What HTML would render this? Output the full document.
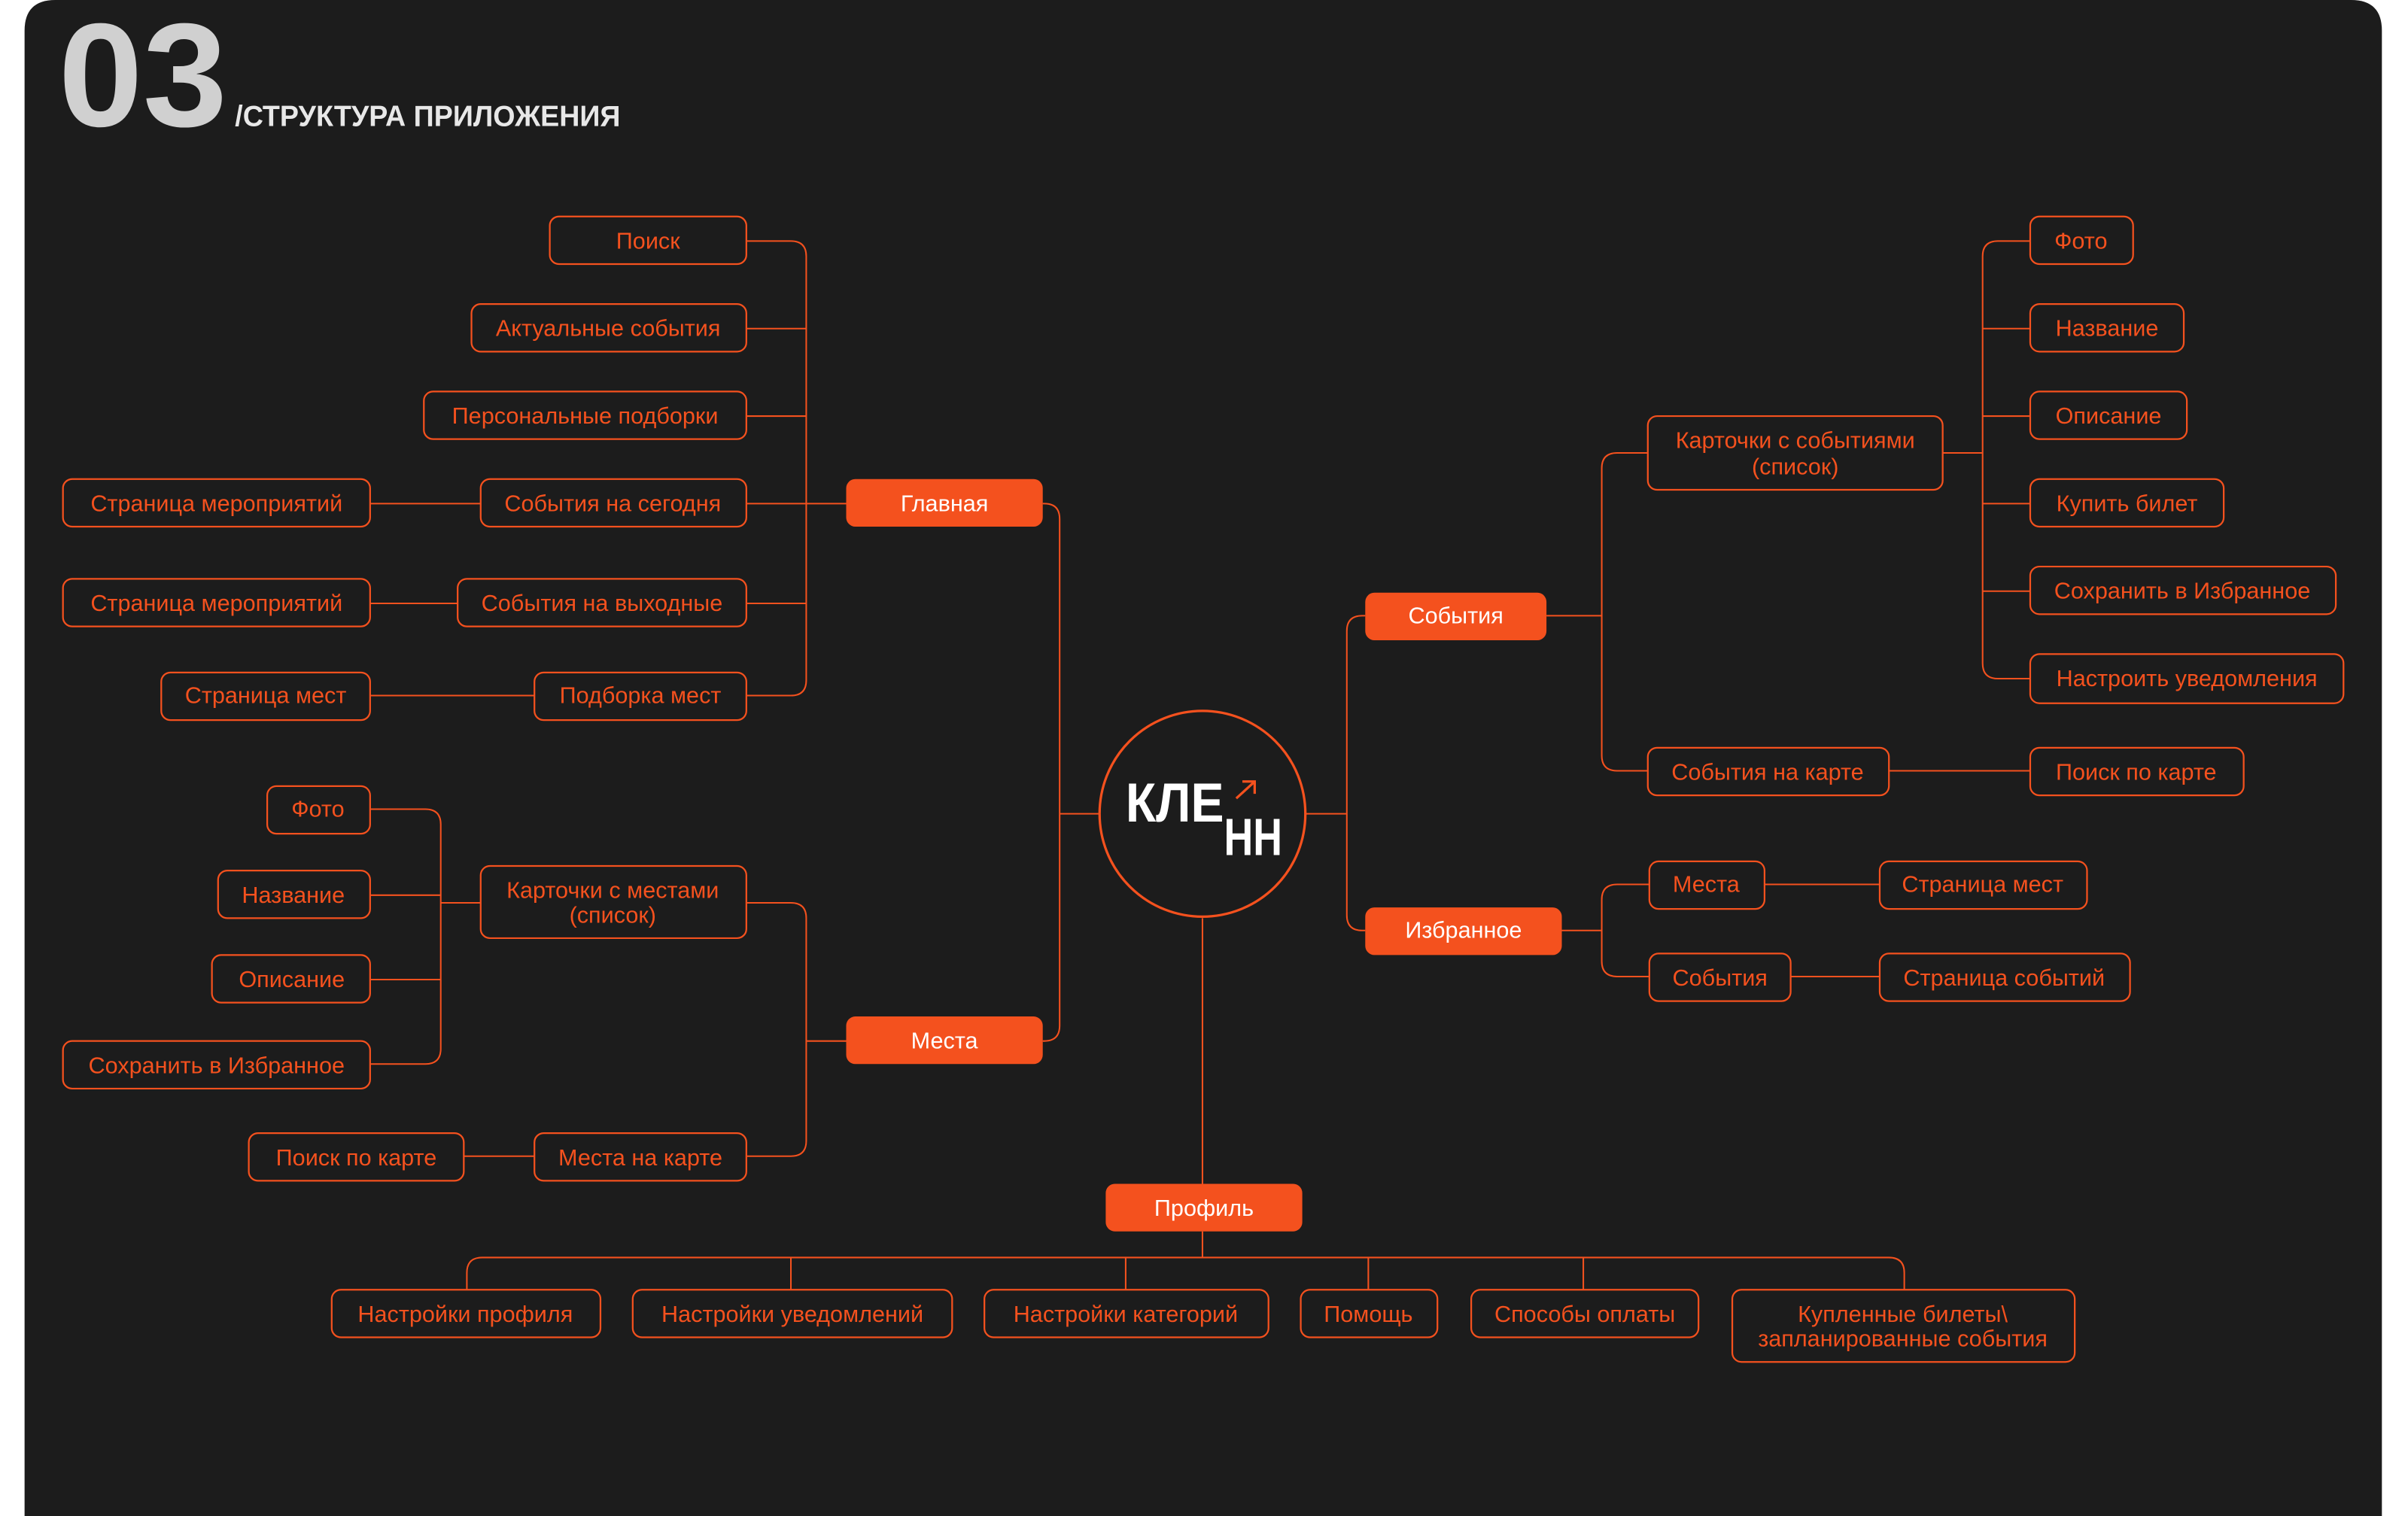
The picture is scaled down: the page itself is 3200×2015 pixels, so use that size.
<!DOCTYPE html>
<html><head><meta charset="utf-8"><style>
html,body{margin:0;padding:0;background:#fff;}
svg{display:block}
text{font-family:"Liberation Sans",sans-serif;}
.b{fill:none;stroke:#f4511e;stroke-width:1.1}
.f{fill:#f4511e;stroke:none}
.l{fill:none;stroke:#f4511e;stroke-width:1}
.t{fill:#f4511e;font-size:15px;text-anchor:middle;dominant-baseline:central}
.tw{fill:#fff;font-size:15px;text-anchor:middle;dominant-baseline:central}
</style></head><body>
<svg width="3200" height="2015" viewBox="0 0 1568 987.35" xmlns="http://www.w3.org/2000/svg">
<rect x="0" y="0" width="1568" height="988" fill="#fff"/>
<path d="M16 988 V20 Q16 0 36 0 H1531 Q1551 0 1551 20 V988 Z" fill="#1c1c1c"/>
<text x="38" y="82" font-size="96" font-weight="bold" fill="#d0d0d0" textLength="110" lengthAdjust="spacingAndGlyphs">03</text>
<text x="153" y="82" font-size="19" font-weight="bold" fill="#e8e8e8" textLength="251" lengthAdjust="spacingAndGlyphs">/СТРУКТУРА ПРИЛОЖЕНИЯ</text>

<g class="l">
<path d="M486 157 H515 Q525 157 525 167 V443 Q525 453 515 453 H486"/>
<path d="M486 214 H525 M486 271 H525 M486 328 H551 M486 393 H525"/>
<path d="M241 328 H313 M241 393 H298 M241 453 H348"/>
<path d="M679 328 H680 Q690 328 690 338 V668 Q690 678 680 678 H679 M690 530 H717"/>
<path d="M486 588 H515 Q525 588 525 598 V743 Q525 753 515 753 H486 M525 678 H551"/>
<path d="M241 527 H277 Q287 527 287 537 V683 Q287 693 277 693 H241 M241 583 H287 M241 638 H287 M287 588 H313"/>
<path d="M302 753 H348"/>
<path d="M850 530 H877 M889 401 H887 Q877 401 877 411 V596 Q877 606 887 606 H889"/>
<path d="M1007 401 H1043 M1073 295 H1053 Q1043 295 1043 305 V492 Q1043 502 1053 502 H1073 M1230 502 H1322"/>
<path d="M1265 295 H1291 M1322 157 H1301 Q1291 157 1291 167 V432 Q1291 442 1301 442 H1322 M1291 214 H1322 M1291 271 H1322 M1291 328 H1322 M1291 385 H1322"/>
<path d="M1017 606 H1043 M1074 576 H1053 Q1043 576 1043 586 V626 Q1043 636 1053 636 H1074 M1149 576 H1224 M1166 636 H1224"/>
<path d="M783 598 V771 M783 802 V819 M304 840 V829 Q304 819 314 819 H1230 Q1240 819 1240 829 V840 M515 819 V840 M733 819 V840 M891 819 V840 M1031 819 V840"/>
</g>

<circle cx="783" cy="530" r="67" fill="#1c1c1c" stroke="#f4511e" stroke-width="1.6"/>
<text x="733" y="535" font-size="36" font-weight="bold" fill="#fff" textLength="64" lengthAdjust="spacingAndGlyphs">КЛЕ</text>
<text x="797" y="557" font-size="34" font-weight="bold" fill="#fff" textLength="38" lengthAdjust="spacingAndGlyphs">НН</text>
<path d="M805 520 L817 509 M809 509 H817 V517" fill="none" stroke="#f4511e" stroke-width="1.6"/>

<rect class="f" x="551" y="312" width="128" height="31" rx="6"/><text class="tw" x="615" y="328">Главная</text>
<rect class="f" x="551" y="662" width="128" height="31" rx="6"/><text class="tw" x="615" y="678">Места</text>
<rect class="f" x="889" y="386" width="118" height="31" rx="6"/><text class="tw" x="948" y="401">События</text>
<rect class="f" x="889" y="591" width="128" height="31" rx="6"/><text class="tw" x="953" y="606">Избранное</text>
<rect class="f" x="720" y="771" width="128" height="31" rx="6"/><text class="tw" x="784" y="787">Профиль</text>

<g>
<rect class="b" x="358" y="141" width="128" height="31" rx="6"/><text class="t" x="422" y="157">Поиск</text>
<rect class="b" x="307" y="198" width="179" height="31" rx="6"/><text class="t" x="396" y="214">Актуальные события</text>
<rect class="b" x="276" y="255" width="210" height="31" rx="6"/><text class="t" x="381" y="271">Персональные подборки</text>
<rect class="b" x="313" y="312" width="173" height="31" rx="6"/><text class="t" x="399" y="328">События на сегодня</text>
<rect class="b" x="41" y="312" width="200" height="31" rx="6"/><text class="t" x="141" y="328">Страница мероприятий</text>
<rect class="b" x="298" y="377" width="188" height="31" rx="6"/><text class="t" x="392" y="393">События на выходные</text>
<rect class="b" x="41" y="377" width="200" height="31" rx="6"/><text class="t" x="141" y="393">Страница мероприятий</text>
<rect class="b" x="348" y="438" width="138" height="31" rx="6"/><text class="t" x="417" y="453">Подборка мест</text>
<rect class="b" x="105" y="438" width="136" height="31" rx="6"/><text class="t" x="173" y="453">Страница мест</text>

<rect class="b" x="313" y="564" width="173" height="47" rx="6"/><text class="t" x="399" y="580">Карточки с местами</text><text class="t" x="399" y="596">(список)</text>
<rect class="b" x="348" y="738" width="138" height="31" rx="6"/><text class="t" x="417" y="754">Места на карте</text>
<rect class="b" x="162" y="738" width="140" height="31" rx="6"/><text class="t" x="232" y="754">Поиск по карте</text>
<rect class="b" x="174" y="512" width="67" height="31" rx="6"/><text class="t" x="207" y="527">Фото</text>
<rect class="b" x="142" y="567" width="99" height="31" rx="6"/><text class="t" x="191" y="583">Название</text>
<rect class="b" x="138" y="622" width="103" height="31" rx="6"/><text class="t" x="190" y="638">Описание</text>
<rect class="b" x="41" y="678" width="200" height="31" rx="6"/><text class="t" x="141" y="694">Сохранить в Избранное</text>

<rect class="b" x="1073" y="271" width="192" height="48" rx="6"/><text class="t" x="1169" y="287">Карточки с событиями</text><text class="t" x="1169" y="304">(список)</text>
<rect class="b" x="1073" y="487" width="157" height="31" rx="6"/><text class="t" x="1151" y="503">События на карте</text>
<rect class="b" x="1322" y="487" width="139" height="31" rx="6"/><text class="t" x="1391" y="503">Поиск по карте</text>
<rect class="b" x="1322" y="141" width="67" height="31" rx="6"/><text class="t" x="1355" y="157">Фото</text>
<rect class="b" x="1322" y="198" width="100" height="31" rx="6"/><text class="t" x="1372" y="214">Название</text>
<rect class="b" x="1322" y="255" width="102" height="31" rx="6"/><text class="t" x="1373" y="271">Описание</text>
<rect class="b" x="1322" y="312" width="126" height="31" rx="6"/><text class="t" x="1385" y="328">Купить билет</text>
<rect class="b" x="1322" y="369" width="199" height="31" rx="6"/><text class="t" x="1421" y="385">Сохранить в Избранное</text>
<rect class="b" x="1322" y="426" width="204" height="32" rx="6"/><text class="t" x="1424" y="442">Настроить уведомления</text>

<rect class="b" x="1074" y="561" width="75" height="31" rx="6"/><text class="t" x="1111" y="576">Места</text>
<rect class="b" x="1074" y="621" width="92" height="31" rx="6"/><text class="t" x="1120" y="637">События</text>
<rect class="b" x="1224" y="561" width="135" height="31" rx="6"/><text class="t" x="1291" y="576">Страница мест</text>
<rect class="b" x="1224" y="621" width="163" height="31" rx="6"/><text class="t" x="1305" y="637">Страница событий</text>

<rect class="b" x="216" y="840" width="175" height="31" rx="6"/><text class="t" x="303" y="856">Настройки профиля</text>
<rect class="b" x="412" y="840" width="208" height="31" rx="6"/><text class="t" x="516" y="856">Настройки уведомлений</text>
<rect class="b" x="641" y="840" width="185" height="31" rx="6"/><text class="t" x="733" y="856">Настройки категорий</text>
<rect class="b" x="847" y="840" width="89" height="31" rx="6"/><text class="t" x="891" y="856">Помощь</text>
<rect class="b" x="958" y="840" width="148" height="31" rx="6"/><text class="t" x="1032" y="856">Способы оплаты</text>
<rect class="b" x="1128" y="840" width="223" height="47" rx="6"/><text class="t" x="1239" y="856">Купленные билеты\</text><text class="t" x="1239" y="872">запланированные события</text>
</g>
</svg>
</body></html>
